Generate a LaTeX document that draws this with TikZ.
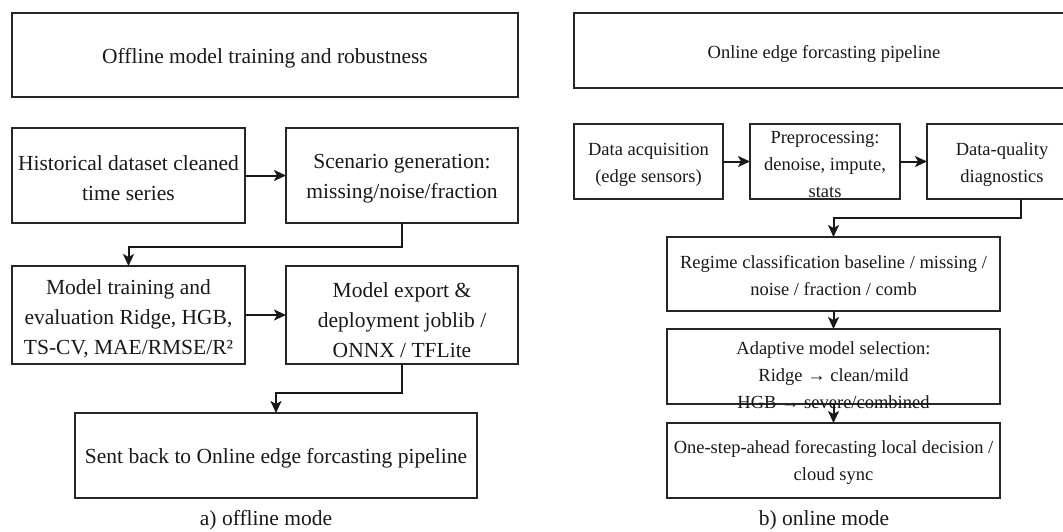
\documentclass[tikz,border=0pt]{standalone}
\usepackage{fontspec}
\setmainfont{Liberation Serif}
\usetikzlibrary{arrows.meta}
\begin{document}
\begin{tikzpicture}[x=1pt,y=-1pt,
  box/.style={draw=black!85, line width=2.3pt, inner sep=0pt, outer sep=0pt},
  ltxt/.style={align=center, font=\fontsize{21.5}{30}\selectfont, inner sep=0pt, text=black!90},
  rtxt/.style={align=center, font=\fontsize{18.5}{27}\selectfont, inner sep=0pt, text=black!90},
  arr/.style={draw=black!90, line width=2pt, -{Stealth[length=12pt,width=11pt,inset=3pt]}}
]
\useasboundingbox (0,0) rectangle (1063,531);
\clip (0,0) rectangle (1063,531);
\fill[white] (0,0) rectangle (1063,531);

% ---------- left panel ----------
\node[box, minimum width=506pt, minimum height=84pt] (ltitle) at (265,55) {};
\node[box, minimum width=233pt, minimum height=95pt] (hist) at (128.5,175.5) {};
\node[box, minimum width=232pt, minimum height=95pt] (scen) at (402,175.5) {};
\node[box, minimum width=233pt, minimum height=98pt] (model) at (128.5,315) {};
\node[box, minimum width=232pt, minimum height=98pt] (export) at (402,315) {};
\node[box, minimum width=402pt, minimum height=85pt] (sent) at (276,455.5) {};

\node[ltxt] (tltitle) at ([yshift=-3pt]ltitle.center) {Offline model training and robustness};
\node[ltxt] (thist) at ([yshift=-3pt]hist.center) {Historical dataset cleaned\\time series};
\node[ltxt] (tscen) at ([yshift=-3pt]scen.center) {Scenario generation:\\missing/noise/fraction};
\node[ltxt] (tmodel) at ([yshift=-4pt]model.center) {Model training and\\evaluation Ridge, HGB,\\TS-CV, MAE/RMSE/R²};
\node[ltxt] (texport) at ([yshift=-5pt]export.center) {Model export \&\\deployment joblib /\\ONNX / TFLite};
\node[ltxt] (tsent) at ([yshift=-3pt]sent.center) {Sent back to Online edge forcasting pipeline};
\node[ltxt] (capa) at (266,520) {a) offline mode};

\draw[arr] (hist.east) -- (scen.west);
\draw[arr] (scen.south) -- ++(0,24) -| (model.north);
\draw[arr] (model.east) -- (export.west);
\draw[arr] (export.south) -- ++(0,29) -| (sent.north);

% ---------- right panel ----------
\node[box, minimum width=500pt, minimum height=75pt] (rtitle) at (824,50.5) {};
\node[box, minimum width=149pt, minimum height=75pt] (acq) at (648.5,161.5) {};
\node[box, minimum width=150pt, minimum height=75pt] (pre) at (825,161.5) {};
\node[box, minimum width=150pt, minimum height=75pt] (dq) at (1002,161.5) {};
\node[box, minimum width=333pt, minimum height=74pt] (reg) at (833.5,274) {};
\node[box, minimum width=333pt, minimum height=75pt] (ada) at (833.5,366.5) {};
\node[box, minimum width=333pt, minimum height=75pt] (one) at (833.5,460.5) {};

\node[rtxt] (trtitle) at ([yshift=-3pt]rtitle.center) {Online edge forcasting pipeline};
\node[rtxt] (tacq) at ([yshift=-3pt]acq.center) {Data acquisition\\(edge sensors)};
\node[rtxt] (tpre) at ([yshift=-3pt]pre.center) {Preprocessing:\\denoise, impute,\\stats};
\node[rtxt] (tdq) at ([yshift=-3pt]dq.center) {Data-quality\\diagnostics};
\node[rtxt] (treg) at ([yshift=-2pt]reg.center) {Regime classification baseline / missing /\\noise / fraction / comb};
\node[rtxt] (tada) at ([yshift=-8.5pt]ada.center) {Adaptive model selection:\\Ridge → clean/mild\\HGB → severe/combined};
\node[rtxt] (tone) at ([yshift=-2pt]one.center) {One-step-ahead forecasting local decision /\\cloud sync};
\node[ltxt] (capb) at (824,520) {b) online mode};

\draw[arr] (acq.east) -- (pre.west);
\draw[arr] (pre.east) -- (dq.west);
\coordinate (dqout) at ([xshift=19pt]dq.south);
\draw[arr] (dqout) -- ++(0,19) -| (reg.north);
\draw[arr] (reg.south) -- (ada.north);
\draw[arr] (ada.south) -- (one.north);
\end{tikzpicture}
\end{document}
